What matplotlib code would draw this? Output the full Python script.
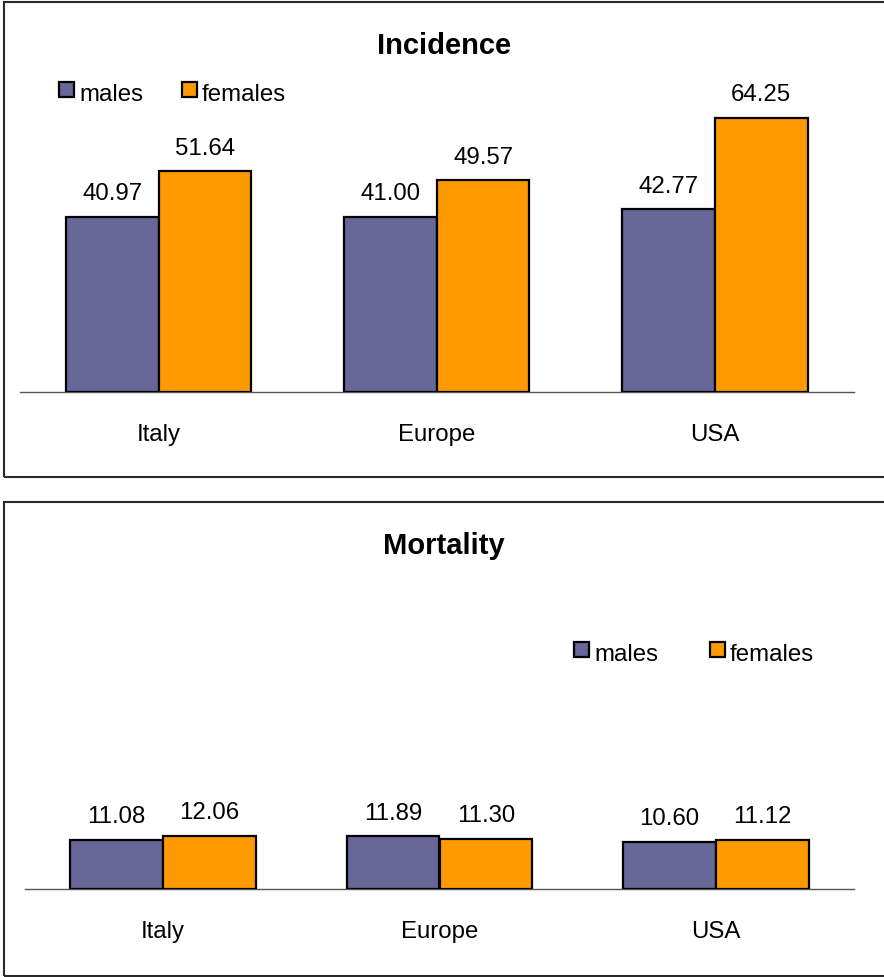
import matplotlib
matplotlib.use('Agg')
import matplotlib.pyplot as plt
from matplotlib.patches import Rectangle
import numpy as np

regions = ["Italy", "Europe", "USA"]
series = ["males", "females"]
incidence_males = [40.97, 41.00, 42.77]
incidence_females = [51.64, 49.57, 64.25]
mortality_males = [11.08, 11.89, 10.60]
mortality_females = [12.06, 11.30, 11.12]

MALE_COLOR = "#666699"
FEMALE_COLOR = "#FF9900"
W, H = 884, 977
FS = 17.3

plt.rcParams['font.family'] = ['Liberation Sans', 'DejaVu Sans']


def fx(px):
    return px / W


def fy(py):
    return 1 - py / H


def draw_panel(fig, males, females, title, base_px, left_px, right_px, ymax, px_per_unit,
               bar_w, panel_top, panel_bot, legend_x, legend_y):
    # outer frame
    fig.add_artist(Rectangle((fx(3.5), fy(panel_bot)), (W + 20) / W, (panel_bot - panel_top) / H,
                             transform=fig.transFigure, fill=False, lw=1.5, ec="#2a2a2a"))
    fig.text(fx(444), fy(panel_top + 52), title, ha="center", va="baseline",
             fontsize=21, fontweight="bold")

    ax = fig.add_axes([fx(left_px), fy(base_px), (right_px - left_px) / W, ymax * px_per_unit / H])
    x = np.arange(len(regions))
    ax.bar(x - bar_w / 2, males, bar_w, color=MALE_COLOR, edgecolor="black", linewidth=1.6, zorder=3)
    ax.bar(x + bar_w / 2, females, bar_w, color=FEMALE_COLOR, edgecolor="black", linewidth=1.6, zorder=3)
    for xs, vals in ((x - bar_w / 2, males), (x + bar_w / 2, females)):
        for xi, v in zip(xs, vals):
            ax.annotate(f"{v:.2f}", (xi, v), xytext=(0, 12), textcoords="offset points",
                        ha="center", va="baseline", fontsize=FS)
    for xi, name in zip(x, regions):
        ax.annotate(name, (xi, 0), xycoords=("data", "axes fraction"), xytext=(0, -35),
                    textcoords="offset points", ha="center", va="baseline", fontsize=FS)
    ax.set_xlim(-0.5, len(regions) - 0.5)
    ax.set_ylim(0, ymax)
    for s in ("top", "left", "right"):
        ax.spines[s].set_visible(False)
    ax.spines["bottom"].set_color("#555555")
    ax.spines["bottom"].set_linewidth(1.0)
    ax.set_xticks([])
    ax.set_yticks([])
    ax.patch.set_visible(False)

    # legend
    for (lx, name, col) in zip(legend_x, series, (MALE_COLOR, FEMALE_COLOR)):
        fig.add_artist(Rectangle((fx(lx), fy(legend_y)), 15 / W, 15 / H, transform=fig.transFigure,
                                 facecolor=col, edgecolor="black", lw=1.6))
        fig.text(fx(lx + 20), fy(legend_y + 4), name, ha="left", va="baseline", fontsize=FS)
    return ax


fig = plt.figure(figsize=(W / 100, H / 100), dpi=100)

draw_panel(fig, incidence_males, incidence_females, "Incidence", 392, 19.5, 854, 70, 4.27,
           0.333, 2.5, 477, (59, 182), 97)
draw_panel(fig, mortality_males, mortality_females, "Mortality", 889, 25, 854, 20, 4.42,
           0.336, 501.5, 976, (574, 710), 657)

fig.savefig("out.png", dpi=100)
